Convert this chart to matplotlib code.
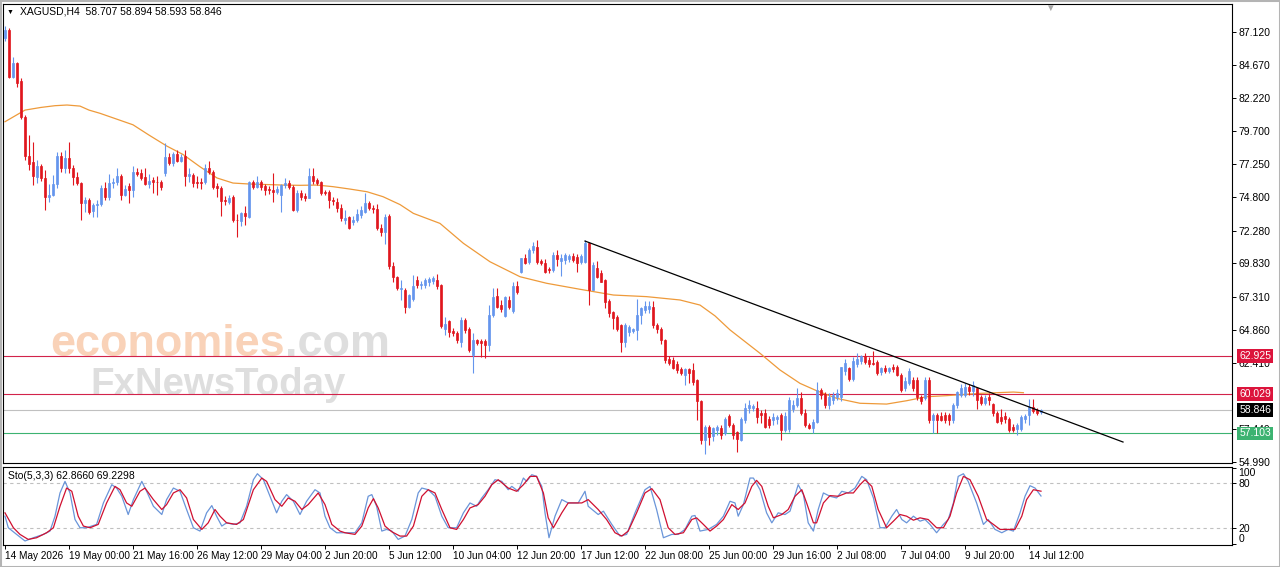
import numpy as np
import matplotlib.pyplot as plt
import matplotlib.transforms as mtransforms
from matplotlib.patches import Rectangle

plt.rcParams['font.family'] = ['Liberation Sans', 'DejaVu Sans']

# H4 candles, oldest first
opens = [86.7, 87.3, 83.8, 84.8, 83.5, 80.8, 77.9, 77.4, 76.3, 77.1,
         76.2, 74.8, 74.95, 75.8, 77.85, 76.95, 77.7, 77.0, 76.3, 75.85,
         74.35, 74.6, 73.75, 74.2, 74.25, 75.45, 74.8, 75.85, 75.9, 76.4,
         74.95, 75.6, 75.3, 76.7, 76.6, 76.3, 75.75, 76.05, 75.95, 75.9,
         76.6, 77.8, 77.35, 78.0, 77.5, 77.9, 76.4, 76.45, 75.95, 75.9,
         75.9, 77.0, 76.7, 75.6, 75.45, 74.6, 74.4, 74.8, 73.1, 73.0,
         73.6, 73.3, 75.9, 75.55, 75.95, 75.6, 75.4, 75.3, 75.15, 74.95,
         75.7, 75.85, 75.55, 73.8, 75.1, 74.9, 74.75, 76.4, 76.05, 75.9,
         75.15, 75.2, 74.6, 74.4, 73.95, 73.05, 73.3, 72.9, 73.1, 73.45,
         73.7, 74.35, 74.0, 73.9, 72.5, 72.2, 73.4, 69.6, 68.8, 67.9,
         67.8, 66.6, 67.2, 68.55, 68.2, 68.2, 68.45, 68.5, 68.55, 68.2,
         64.9, 65.5, 64.8, 64.6, 63.95, 65.6, 64.95, 63.0, 64.1, 64.0,
         64.0, 63.75, 66.0, 67.4, 66.7, 65.9, 67.1, 66.3, 68.1, 69.2,
         70.2, 69.9, 70.8, 71.05, 70.0, 69.85, 69.4, 69.3, 70.45, 70.0,
         70.05, 70.15, 70.35, 70.3, 69.95, 69.95, 71.35, 67.85, 69.5, 69.1,
         68.6, 67.0, 66.2, 65.8, 65.2, 63.95, 64.7, 64.8, 64.85, 65.95,
         66.35, 66.4, 66.6, 65.2, 64.95, 64.1, 62.65, 62.6, 62.3, 61.9,
         61.5, 61.9, 61.85, 61.1, 59.55, 56.62, 57.6, 56.9, 57.35, 57.5,
         57.1, 58.4, 57.75, 57.2, 56.6, 58.1, 59.0, 59.0, 59.0, 58.6,
         58.6, 58.15, 58.1, 58.15, 58.5, 57.37, 57.4, 58.9, 59.25, 59.75,
         58.6, 57.75, 57.5, 57.95, 60.35, 60.05, 59.2, 59.6, 59.8, 59.8,
         61.75, 62.0, 61.15, 62.3, 62.5, 62.9, 62.6, 62.4, 62.45, 61.7,
         62.0, 61.75, 62.1, 62.1, 61.5, 60.5, 60.9, 61.1, 61.1, 59.85,
         59.75, 61.1, 58.1, 58.5, 58.4, 58.5, 58.45, 58.1, 59.2, 60.0,
         60.0, 60.6, 60.3, 60.5, 59.8, 59.35, 59.8, 59.3, 58.6, 58.3,
         58.4, 58.2, 57.6, 57.4, 57.4, 58.2, 58.5, 59.1, 58.85, 58.707]
highs = [87.6, 87.45, 85.3, 84.9, 83.7, 80.9, 79.4, 78.9, 77.6, 77.25,
         76.8, 75.8, 76.45, 78.15, 78.2, 78.3, 78.9, 77.2, 76.7, 75.9,
         74.8, 74.7, 74.35, 74.6, 75.7, 75.9, 76.5, 76.2, 76.95, 76.5,
         75.7, 75.85, 77.1, 77.0, 76.9, 77.0, 76.55, 76.3, 76.4, 76.05,
         78.85, 78.1, 78.2, 78.3, 78.0, 78.3, 77.0, 76.6, 76.4, 76.2,
         77.3, 77.5, 76.8, 75.85, 75.6, 74.9, 74.95, 74.95, 73.5, 73.65,
         74.1, 76.0, 76.1, 76.4, 76.05, 75.8, 75.6, 76.6, 75.6, 75.8,
         76.2, 76.1, 75.7, 75.3, 75.3, 75.1, 76.95, 77.0, 76.2, 76.0,
         75.35, 75.3, 74.8, 74.7, 74.3, 73.8, 73.4, 73.4, 73.9, 74.1,
         75.1, 74.5, 74.2, 74.3, 72.8, 73.5, 73.5, 69.9, 68.9, 68.6,
         68.0, 67.5, 68.95, 68.9, 68.5, 68.7, 68.8, 68.9, 69.0, 68.3,
         65.8, 65.6, 65.0, 64.8, 65.8, 65.75, 65.1, 64.6, 64.2, 64.2,
         64.2, 66.7, 68.0, 67.95, 67.1, 67.4, 67.4, 68.4, 68.5, 70.25,
         70.5, 71.0, 71.4, 71.6, 70.15, 70.15, 69.55, 70.7, 70.8, 70.5,
         70.6, 70.5, 70.6, 70.5, 70.5, 71.6, 71.4, 69.9, 70.0, 69.3,
         68.65, 67.2, 66.3, 66.0, 65.3, 65.4, 65.2, 65.0, 67.2, 66.6,
         67.0, 67.0, 67.0, 65.4, 65.1, 64.2, 62.9, 62.8, 62.5, 62.1,
         62.0, 62.0, 62.4, 61.2, 59.6, 57.75, 57.75, 57.6, 57.75, 57.7,
         58.3, 58.55, 57.85, 57.3, 58.3, 59.4, 59.6, 59.3, 59.5, 58.85,
         58.95, 58.4, 58.6, 58.5, 58.6, 58.7, 59.8, 59.6, 60.5, 60.2,
         58.95, 57.9, 58.2, 60.95, 60.5, 60.2, 60.1, 60.2, 60.4, 62.1,
         62.65, 62.1, 62.8, 63.1, 63.0, 63.1, 62.8, 63.3, 62.6, 62.1,
         62.2, 62.1, 62.3, 62.2, 61.6, 61.3, 62.0, 61.3, 61.3, 60.0,
         61.3, 61.3, 58.6, 58.6, 58.7, 58.7, 58.6, 59.4, 60.3, 60.8,
         60.9, 60.8, 61.0, 60.6, 60.0, 60.0, 60.1, 59.4, 58.8, 58.9,
         58.7, 58.3, 57.8, 57.85, 58.5, 58.55, 59.65, 59.65, 59.0, 58.894]
lows = [86.5, 83.7, 83.7, 83.0, 80.6, 77.6, 76.8, 75.7, 75.85, 76.0,
        73.8, 74.4, 74.85, 75.45, 76.7, 76.6, 76.6, 75.7, 75.7, 73.1,
        73.65, 73.5, 73.3, 73.3, 74.1, 74.6, 74.6, 75.5, 75.7, 74.6,
        74.9, 74.35, 74.8, 76.4, 76.1, 75.7, 75.5, 75.1, 74.95, 75.3,
        76.4, 77.2, 77.1, 77.4, 77.4, 75.6, 75.95, 75.55, 75.5, 75.4,
        75.8, 76.5, 75.4, 74.8, 73.4, 74.2, 74.3, 72.9, 71.8, 72.65,
        72.7, 73.2, 75.4, 75.5, 75.3, 74.95, 75.0, 74.4, 75.0, 73.7,
        75.5, 75.4, 73.75, 73.7, 74.6, 74.5, 74.7, 75.8, 75.7, 74.95,
        74.95, 74.0, 74.2, 73.7, 73.0, 72.8, 72.4, 72.7, 72.9, 73.2,
        73.6, 73.8, 73.6, 72.3, 71.9, 71.3, 69.4, 68.4, 67.8, 67.1,
        66.1, 66.5, 67.0, 68.0, 67.9, 68.0, 68.1, 68.3, 67.9, 65.0,
        64.45, 64.3, 64.4, 63.9, 63.6, 64.6, 63.2, 61.6, 63.75, 62.8,
        62.75, 63.3, 65.8, 66.5, 66.2, 65.8, 66.4, 66.1, 67.5, 69.1,
        69.8, 69.8, 70.6, 69.8, 69.7, 69.1, 69.1, 69.15, 69.6, 68.9,
        69.75, 69.9, 69.95, 69.2, 69.8, 69.85, 66.7, 67.8, 68.7, 68.4,
        66.5, 65.8, 64.9, 64.8, 63.2, 63.6, 64.4, 64.6, 64.1, 65.3,
        66.1, 66.1, 65.0, 64.6, 63.8, 62.4, 62.2, 61.9, 61.6, 61.5,
        60.7, 60.9, 60.7, 58.1, 56.3, 55.6, 56.25, 56.5, 56.95, 56.7,
        57.0, 57.6, 56.7, 55.7, 56.5, 57.9, 58.6, 58.8, 57.9, 57.9,
        57.5, 57.5, 57.7, 57.8, 56.6, 57.2, 57.2, 58.7, 59.1, 58.5,
        57.6, 57.4, 57.1, 57.85, 59.7, 59.0, 58.9, 59.3, 59.6, 59.5,
        61.5, 61.0, 61.0, 62.1, 62.3, 62.3, 62.1, 62.2, 61.5, 61.5,
        61.6, 61.6, 61.7, 61.4, 60.2, 60.3, 60.7, 60.3, 59.6, 59.3,
        59.6, 57.9, 57.1, 57.1, 58.0, 57.9, 57.7, 57.9, 59.0, 59.8,
        59.8, 60.0, 59.9, 58.9, 59.2, 59.2, 59.2, 58.4, 57.85, 57.8,
        57.9, 57.2, 57.2, 56.95, 57.3, 57.9, 57.7, 58.6, 58.45, 58.593]
closes = [87.3, 83.8, 84.8, 83.3, 80.75, 77.9, 77.3, 76.4, 77.1, 76.2,
          74.8, 74.95, 75.8, 77.85, 76.95, 77.7, 77.0, 76.3, 75.85, 74.35,
          74.6, 73.65, 74.2, 74.3, 75.45, 74.8, 75.85, 75.9, 76.4, 74.95,
          75.4, 75.3, 76.7, 76.55, 76.2, 75.75, 76.0, 75.95, 75.9, 75.55,
          77.8, 77.35, 78.0, 77.5, 77.8, 76.4, 76.5, 75.85, 75.85, 75.85,
          76.95, 76.7, 75.55, 75.45, 74.5, 74.5, 74.7, 73.1, 73.05, 73.6,
          73.4, 75.9, 75.55, 75.95, 75.55, 75.35, 75.3, 75.2, 75.4, 75.7,
          75.85, 75.55, 73.8, 75.1, 74.8, 74.7, 76.4, 76.0, 75.85, 75.1,
          75.1, 74.55, 74.5, 73.95, 73.2, 73.25, 72.5, 73.1, 73.5, 73.8,
          74.35, 73.95, 73.9, 72.5, 72.2, 73.3, 69.6, 68.8, 68.0, 67.95,
          66.6, 67.45, 68.1, 68.2, 68.25, 68.55, 68.65, 68.7, 68.1, 65.15,
          65.3, 64.7, 64.6, 64.1, 65.6, 64.85, 63.35, 64.1, 63.85, 63.9,
          63.7, 66.0, 67.3, 66.6, 66.45, 67.3, 66.6, 68.1, 67.7, 70.2,
          69.85, 70.8, 71.1, 69.95, 69.85, 69.2, 69.3, 70.45, 70.15, 70.2,
          70.45, 70.35, 70.1, 69.85, 70.4, 71.35, 67.85, 69.7, 68.8, 68.45,
          66.95, 66.15, 65.75, 64.9, 63.95, 65.2, 65.1, 64.9, 65.95, 66.5,
          66.65, 66.65, 65.2, 64.95, 64.1, 62.6, 62.35, 62.0, 61.85, 61.6,
          61.95, 61.6, 60.95, 59.5, 56.62, 57.6, 56.85, 57.5, 57.6, 56.95,
          58.2, 57.75, 56.95, 56.65, 58.2, 59.0, 59.2, 59.15, 58.3, 58.45,
          57.55, 57.7, 58.3, 58.3, 57.37, 58.4, 59.6, 59.25, 59.75, 58.6,
          57.75, 57.5, 57.95, 60.35, 60.0, 59.2, 59.85, 60.0, 60.15, 62.05,
          62.4, 61.15, 62.5, 62.65, 62.9, 62.45, 62.3, 62.3, 61.65, 62.0,
          61.75, 62.0, 61.9, 61.5, 60.35, 61.0, 61.8, 60.5, 59.85, 59.5,
          61.1, 58.1, 58.5, 58.1, 58.1, 58.1, 58.1, 59.25, 60.2, 60.5,
          60.6, 60.3, 60.75, 59.6, 59.4, 59.75, 59.6, 58.6, 57.95, 58.0,
          58.2, 57.37, 57.35, 57.7, 58.35, 58.4, 59.1, 58.75, 58.6, 58.846]

# moving average (orange), read at sampled bars
ma_bars = [0, 5, 9, 12.5, 15.5, 18.75, 21, 23.75, 32, 36, 40.5, 44.5, 48.75, 53, 57, 61,
           69.5, 73.75, 78, 82, 86.25, 90.5, 94.5, 98.75, 102.1, 108.75, 114.6, 121.25,
           128.75, 135.4, 143.75, 152.1, 160.4, 168.75, 173.75, 177.5, 181.25, 188.75,
           193.75, 198.75, 202.9, 207.9, 213.75, 220.4, 225.4, 230.4, 235.4, 243.75, 252.1, 254.6]
ma_vals = [80.43, 81.3, 81.5, 81.63, 81.68, 81.6, 81.3, 81.06, 80.2, 79.43, 78.6, 77.98, 77.06,
           76.22, 75.84, 75.77, 75.69, 75.67, 75.69, 75.57, 75.39, 75.19, 74.82, 74.23, 73.57,
           72.82, 71.33, 69.95, 68.83, 68.34, 67.89, 67.46, 67.34, 67.09, 66.71, 65.9, 64.85,
           63.1, 61.85, 60.85, 60.3, 59.73, 59.36, 59.3, 59.55, 59.85, 59.93, 60.1, 60.2, 60.15]

# Stochastic(5,3,3): %K main (blue) and %D signal (red)
k_bars = [0, 0.83, 2.9, 5, 7.1, 9.6, 11.25, 12.5, 13.75, 15, 16.25, 17.5, 18.75, 20.4, 22.9,
          24.6, 26.7, 27.9, 29.2, 30.8, 32.1, 34.2, 35.4, 37.1, 39.2, 40.4, 42.1, 43.75, 45.4,
          47.1, 48.75, 50.4, 51.7, 52.9, 54.2, 55.4, 57.1, 58.75, 60.4, 62.1, 63.1, 64.6, 66.25,
          67.9, 69.2, 70.4, 72.1, 73.75, 75.4, 77.5, 78.75, 80, 81.25, 82.9, 85, 87.5, 89.2,
          90.8, 91.7, 92.9, 94.2, 95.4, 96.7, 98.3, 100, 101.7, 103.3, 104.2, 105.8, 107.5,
          109.2, 110.8, 112.9, 114.6, 116.25, 117.9, 119.2, 120.8, 122.5, 124.2, 125.8, 126.7,
          128.3, 129.6, 130.4, 131.7, 132.9, 134.2, 135, 136, 137.5, 139.2, 140.8, 143.3, 145,
          145.8, 148.3, 149.6, 151.7, 153.75, 155.4, 157.5, 160, 161.25, 162.9, 164.6, 166.7,
          168.3, 170, 171.7, 172.5, 173.75, 175.8, 177.9, 179.6, 181.25, 182.5, 183.3, 184.6,
          186.25, 187.1, 188.75, 190.4, 191.7, 193.3, 195, 196.25, 198.3, 199.6, 200.8, 202.1,
          203.3, 204.6, 206.25, 207.9, 209.2, 210.8, 212.5, 214.2, 215.4, 217.1, 218.75, 220,
          221.7, 222.9, 224.2, 225.4, 227.1, 228.75, 230, 231.25, 232.9, 234.6, 235.8, 237.1,
          238.3, 239.6, 240.8, 242.9, 244.6, 245.8, 247.5, 249.2, 250.8, 252.1, 253.75, 255,
          256.25, 257.5, 259]
k_vals = [36.2, 20.9, 12.1, 3.4, 7.7, 12.1, 16.5, 36.2, 66.9, 82.2, 66.9, 31.8, 20.9, 20.9, 25.3,
          53.7, 77.8, 73.4, 62.5, 38.4, 58.1, 82.2, 69.1, 49.3, 38.4, 58.1, 73.4, 69.1, 45.0,
          20.9, 16.5, 40.6, 50.2, 36.2, 23.1, 27.4, 25.3, 27.4, 49.3, 84.4, 92.3, 84.4, 62.5,
          40.6, 55.9, 64.7, 55.9, 38.4, 55.9, 71.2, 66.9, 36.2, 20.9, 14.3, 14.3, 14.3, 27.4,
          62.5, 64.7, 49.3, 16.5, 18.7, 16.5, 5.5, 9.9, 31.8, 66.9, 73.4, 71.2, 62.5,
          36.2, 20.9, 20.9, 40.6, 53.7, 49.3, 60.3, 71.2, 84.4, 82.2, 71.2, 75.6,
          69.1, 86.6, 82.2, 91.0, 88.8, 75.6, 40.6, 7.7, 36.2, 58.1, 53.7, 53.7, 69.1,
          49.3, 38.4, 42.8, 25.3, 9.9, 12.1, 40.6, 71.2, 75.6, 45.0, 7.7, 12.1,
          12.1, 18.7, 36.2, 37.1, 16.5, 18.7, 25.3, 36.2, 55.9, 53.7, 36.2, 51.5,
          86.6, 86.6, 71.2, 40.6, 27.4, 40.6, 38.4, 42.8, 77.8, 64.7, 27.4, 16.5,
          45.0, 66.9, 62.5, 60.3, 69.1, 66.9, 73.4, 88.8, 84.4, 60.3, 20.9, 20.9,
          36.2, 45.0, 31.8, 27.4, 36.2, 29.6, 31.8, 25.3, 14.3, 25.3, 31.8, 53.7,
          88.8, 92.3, 82.2, 53.7, 25.3, 31.8, 18.7, 14.3, 18.7, 16.5, 40.6, 62.5,
          76.5, 73.4, 62.866]
d_bars = [0, 2.1, 3.75, 5.8, 7.9, 10.4, 12.1, 13.75, 15.4, 16.7, 18.3, 19.6, 21.25, 23.3, 25.4,
          27.5, 28.75, 30.4, 31.7, 33.75, 35, 37.1, 39.2, 40.4, 42.1, 43.75, 45.4, 47.1, 49.2,
          50.8, 52.5, 53.75, 55.4, 57.9, 59.6, 62.1, 64.2, 65.4, 67.5, 69.2, 70.8, 72.5, 74.2,
          75.8, 78.3, 80, 81.7, 83.75, 85, 87.5, 89.2, 90.8, 92.1, 93.3, 95, 96.7, 98.75,
          100.4, 102.1, 104.2, 105.8, 107.5, 109.2, 111.25, 112.9, 114.6, 116.25, 118.3, 120,
          121.7, 123.3, 125.8, 127.9, 129.6, 131.25, 132.9, 134.6, 135.8, 137.1, 139.2, 140.8,
          144.2, 145.8, 148.3, 150.4, 152.5, 154.2, 155.8, 157.9, 160, 161.7, 163.75, 165.8,
          167.5, 169.6, 171.7, 172.9, 174.6, 176.25, 177.9, 179.6, 181.7, 183.3, 185, 186.7,
          187.9, 189.2, 190.8, 192.1, 194.2, 195.8, 197.5, 199.2, 200.4, 202.1, 202.9, 204.6,
          206.25, 208.3, 210.4, 212.1, 213.75, 215, 216.7, 218.3, 220.4, 222.1, 223.75, 225.4,
          227.1, 228.75, 230.8, 232.9, 234.6, 236.25, 237.9, 239.6, 241.25, 243.3, 245.4,
          247.1, 248.75, 250.8, 252.5, 254.2, 255.4, 257.1, 259]
d_vals = [40.6, 20.9, 12.1, 5.5, 7.7, 14.3, 20.9, 49.3, 73.4, 69.1, 36.2, 23.1, 20.9, 25.3, 53.7,
          75.6, 71.2, 53.7, 49.3, 69.1, 73.4, 58.1, 45.0, 51.5, 66.9, 71.2, 60.3, 31.8, 18.7,
          27.4, 45.0, 36.2, 27.4, 25.3, 31.8, 71.2, 86.6, 82.2, 58.1, 49.3, 60.3, 55.9, 45.0,
          51.5, 66.9, 51.5, 25.3, 16.5, 14.3, 12.1, 23.1, 47.1, 59.4, 47.1, 23.1, 15.6, 9.9,
          9.9, 23.1, 62.5, 71.2, 66.9, 45.0, 20.9, 18.7, 31.8, 47.1, 51.5, 62.5,
          77.8, 84.4, 73.4, 69.1, 77.8, 88.8, 88.8, 66.9, 34.0, 20.9, 40.6, 53.7,
          53.7, 58.1, 45.0, 31.8, 14.3, 9.9, 16.5, 40.6, 66.9, 72.6, 58.1, 20.9,
          12.1, 14.3, 31.8, 34.0, 25.3, 16.5, 23.1, 31.8, 51.5, 45.0, 53.7, 75.6,
          83.5, 75.6, 49.3, 34.0, 38.4, 45.0, 62.5, 71.2, 53.7, 27.4, 27.4, 53.7,
          63.4, 62.5, 66.9, 66.9, 77.8, 84.4, 75.6, 45.0, 20.9, 29.6, 38.4, 36.2,
          30.9, 34.0, 31.8, 20.9, 20.9, 36.2, 66.9, 88.8, 84.4, 62.5, 31.8,
          25.3, 18.7, 18.7, 18.7, 36.2, 58.1, 71.2, 69.2298]

time_labels = ['14 May 2026', '19 May 00:00', '21 May 16:00', '26 May 12:00', '29 May 04:00',
               '2 Jun 20:00', '5 Jun 12:00', '10 Jun 04:00', '12 Jun 20:00', '17 Jun 12:00',
               '22 Jun 08:00', '25 Jun 00:00', '29 Jun 16:00', '2 Jul 08:00', '7 Jul 04:00',
               '9 Jul 20:00', '14 Jul 12:00']
price_ticks = [87.12, 84.67, 82.22, 79.70, 77.25, 74.80, 72.28, 69.83, 67.31, 64.86, 62.41,
               57.44, 54.99]

levels = [62.925, 60.029, 58.846, 57.103]
level_colors = ['#D2234A', '#D2234A', '#C0C0C0', '#3CB371']
level_boxes = ['#DC143C', '#DC143C', '#000000', '#3CB371']

trend_bars = [145, 279.5]
trend_prices = [71.50, 56.46]

BULL = '#6495ED'
BEAR = '#E0161E'

W, H = 1280, 567
fig = plt.figure(figsize=(W / 100, H / 100), dpi=100)
fig.patch.set_facecolor('white')
fig.patches.append(Rectangle((0, 0), 1, 1, transform=fig.transFigure, fill=False,
                             ec='#B4B4B4', lw=2.2, zorder=0))

ax = fig.add_axes([3 / W, 1 - 463 / H, 1229 / W, 459 / H])
ax2 = fig.add_axes([3 / W, 1 - 545 / H, 1229 / W, 78 / H])

# ---- main price panel ----
o = np.array(opens); h = np.array(highs); l = np.array(lows); c = np.array(closes)
x = np.arange(len(c))
cols = np.where(c >= o, BULL, BEAR)
ax.vlines(x, l, h, colors=cols, lw=0.8, zorder=3)
ax.bar(x, np.maximum(np.abs(c - o), 0.05), bottom=np.minimum(o, c), width=0.62,
       color=cols, edgecolor=cols, linewidth=0.5, zorder=3)

ax.plot(ma_bars, ma_vals, color='#EE9A3A', lw=0.9, zorder=2.5)
for v, col in zip(levels, level_colors):
    ax.axhline(v, color=col, lw=0.8, zorder=2)
ax.plot(trend_bars, trend_prices, color='black', lw=0.9, zorder=4)

ax.set_xlim(-0.5, 306.75)
ax.set_ylim(54.89, 89.24)
ax.set_xticks([])
ax.yaxis.tick_right()
ax.set_yticks(price_ticks)
ax.set_yticklabels([f'{v:.3f}' for v in price_ticks])
ax.tick_params(axis='y', direction='out', length=3, width=0.7, pad=1.5, labelsize=7.5)

trans = mtransforms.blended_transform_factory(ax.transAxes, ax.transData)
for v, fc in zip(levels, level_boxes):
    ax.text(1.0058, v, f'{v:.3f}', transform=trans, ha='left', va='center', fontsize=7.5,
            color='white', zorder=10, clip_on=False,
            bbox=dict(boxstyle='square,pad=0.18', fc=fc, ec='none'))

# ---- stochastic panel ----
ax2.axhline(80, color='#C0C0C0', lw=0.8, ls=(0, (3, 3)))
ax2.axhline(20, color='#C0C0C0', lw=0.8, ls=(0, (3, 3)))
ax2.plot(k_bars, k_vals, color='#6A95D9', lw=0.9)
ax2.plot(d_bars, d_vals, color='#D01030', lw=0.9)
ax2.set_xlim(-0.5, 306.75)
ax2.set_ylim(-1.9, 101.2)
ax2.yaxis.tick_right()
ax2.set_yticks([0, 20, 80, 100])
ax2.set_yticklabels(['0', '20', '80', '100'])
ax2.tick_params(axis='y', direction='out', length=3, width=0.7, pad=1.5, labelsize=7.5)
ylabs = ax2.get_yticklabels()
ylabs[0].set_va('bottom')
ylabs[-1].set_va('top')
ax2.set_xticks(np.arange(len(time_labels)) * 16)
ax2.set_xticklabels(time_labels)
ax2.tick_params(axis='x', direction='out', length=3, width=0.7, pad=1.0, labelsize=7.2)
for t in ax2.get_xticklabels():
    t.set_ha('left')
ax2.text(0.004, 0.88, f'Sto(5,3,3) {k_vals[-1]:.4f} {d_vals[-1]:.4f}', transform=ax2.transAxes,
         fontsize=7.5, va='center', ha='left')

for a in (ax, ax2):
    for s in a.spines.values():
        s.set_color('black')
        s.set_linewidth(0.8)

# header
fig.text(7 / W, 1 - 12 / H, '\u25BC', fontsize=5, va='center', ha='left')
fig.text(20 / W, 1 - 12 / H,
         f'XAGUSD,H4  {opens[-1]:.3f} {highs[-1]:.3f} {lows[-1]:.3f} {closes[-1]:.3f}',
         fontsize=7.5, va='center', ha='left')
fig.text(1050 / W, 1 - 8 / H, '\u25BC', fontsize=7, color='#A8A8A8', va='center', ha='center')

# watermark
fig.canvas.draw()
probe = ax.text(50 / W, 1 - 345 / H, 'economies.com', transform=fig.transFigure, fontsize=30,
                fontweight='bold', va='center', ha='left')
wfull = probe.get_window_extent().width
probe.remove()
fs = 30 * 340 / wfull
t1 = ax.text(50 / W, 1 - 345 / H, 'economies', transform=fig.transFigure, fontsize=fs,
             fontweight='bold', color='#F9D2B8', va='center', ha='left', zorder=1)
fig.canvas.draw()
w1 = t1.get_window_extent().width
ax.text((50 + w1) / W, 1 - 345 / H, '.com', transform=fig.transFigure, fontsize=fs,
        fontweight='bold', color='#DEDEDE', va='center', ha='left', zorder=1)
probe = ax.text(90 / W, 1 - 385 / H, 'FxNewsToday', transform=fig.transFigure, fontsize=30,
                fontweight='bold', va='center', ha='left')
wfull = probe.get_window_extent().width
probe.remove()
ax.text(90 / W, 1 - 385 / H, 'FxNewsToday', transform=fig.transFigure,
        fontsize=30 * 255 / wfull, fontweight='bold', color='#DEDEDE', va='center',
        ha='left', zorder=1)

fig.savefig('out.png', dpi=100)
